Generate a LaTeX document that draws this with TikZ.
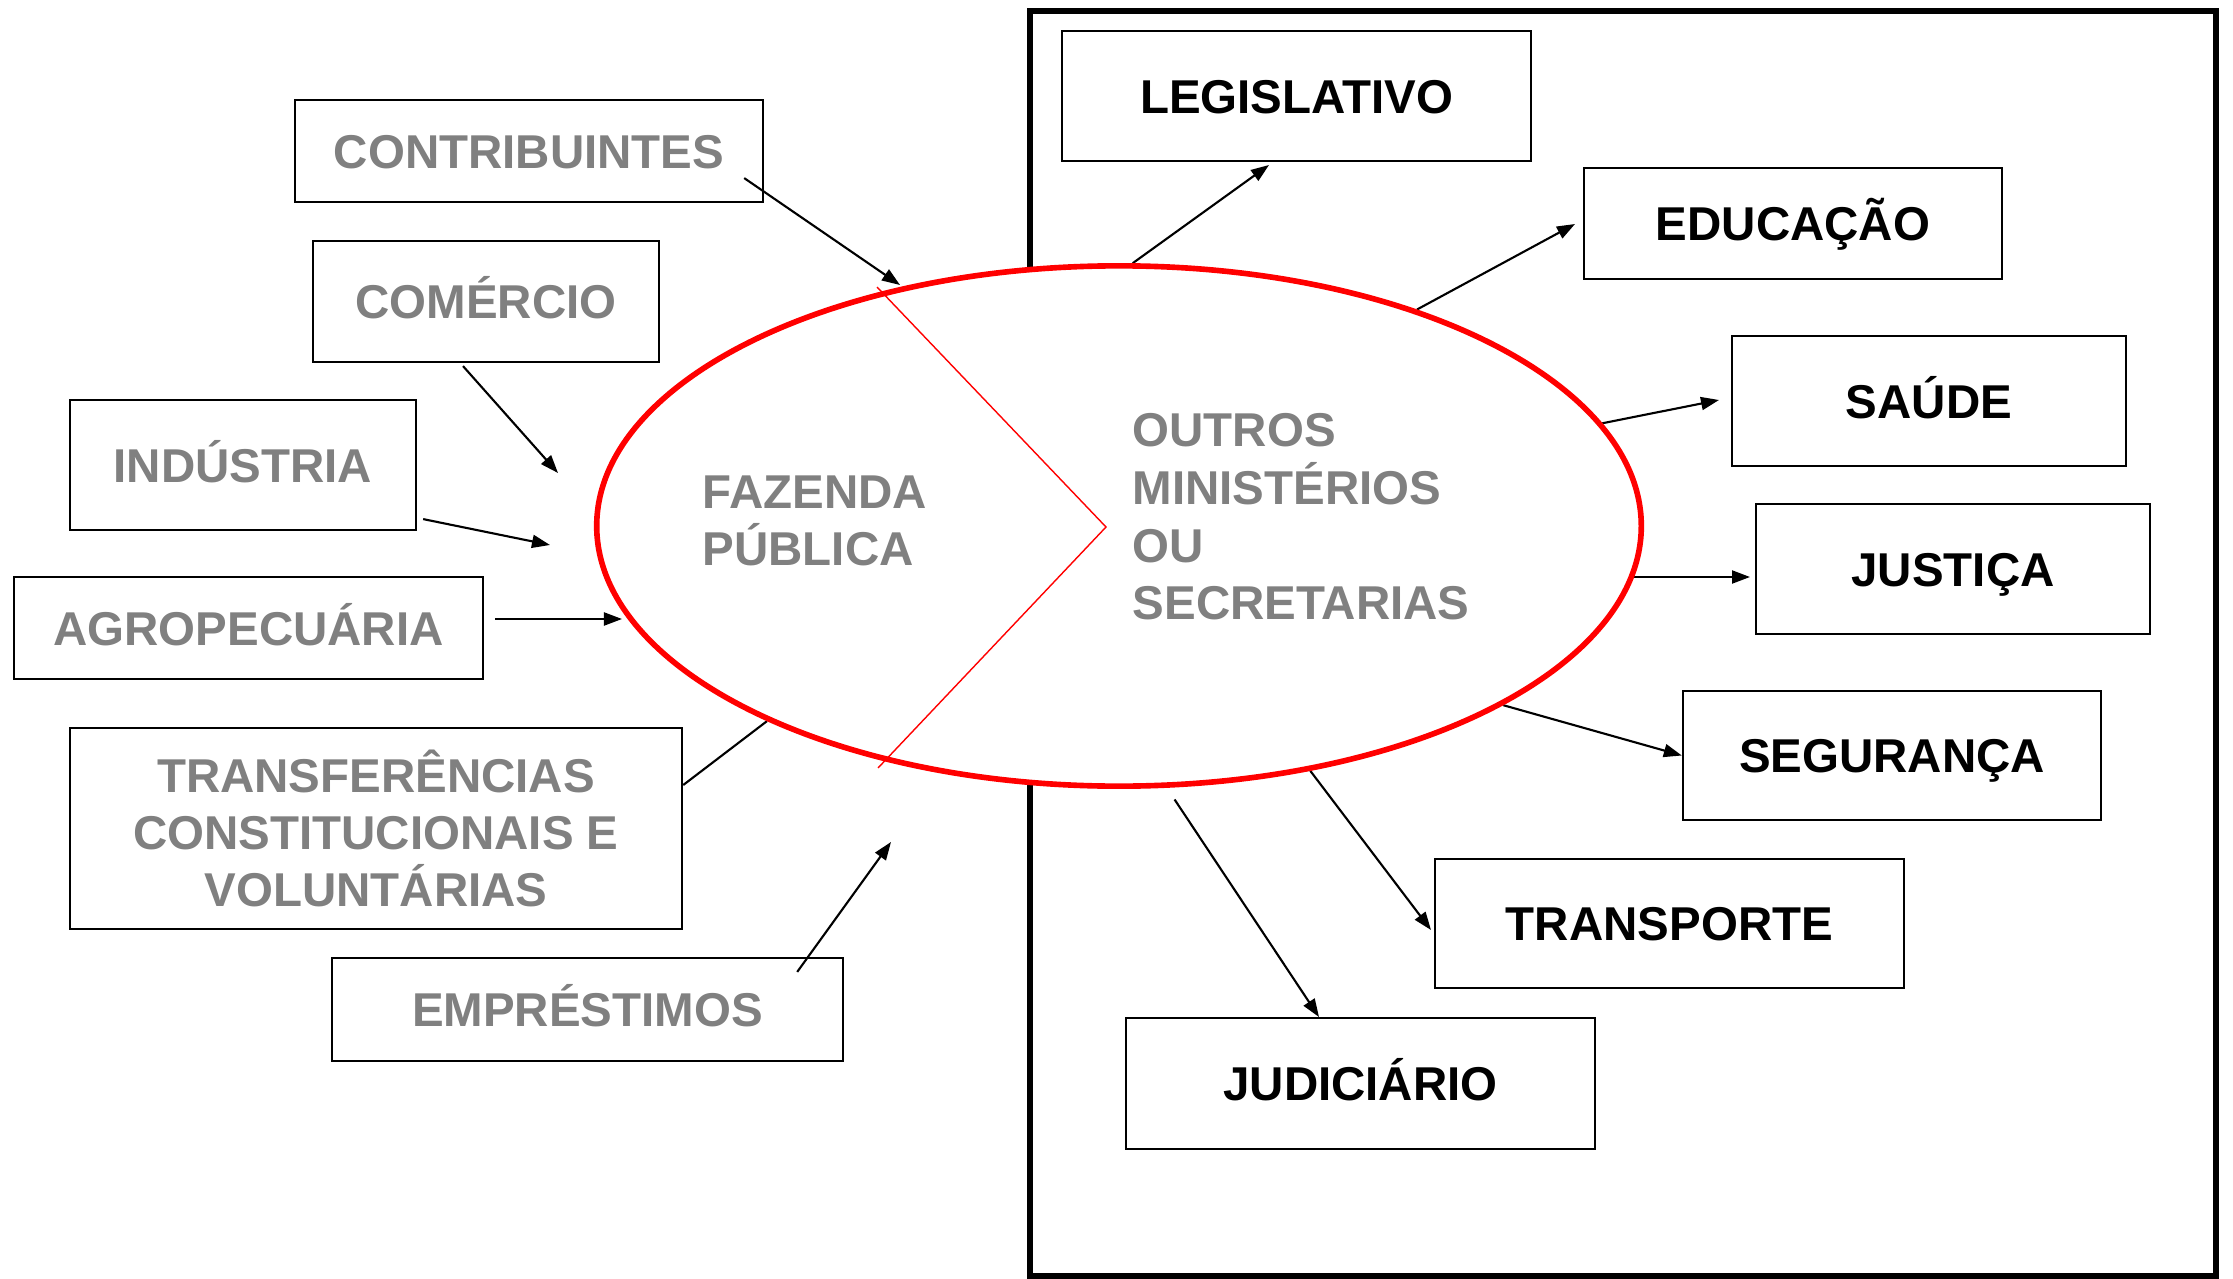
\documentclass[tikz,border=0pt]{standalone}
\usepackage{fontspec}
\setmainfont{Liberation Sans}
\usetikzlibrary{shapes.geometric,arrows.meta,calc,backgrounds}
\definecolor{cinza}{RGB}{128,128,128}
\definecolor{vermelho}{RGB}{255,0,0}
\begin{document}
\begin{tikzpicture}[x=0.01cm,y=-0.01cm,
  caixa/.style={draw,line width=0.6pt,inner sep=0pt,align=center,
    font=\bfseries\fontsize{13.5}{16.3}\selectfont},
  entrada/.style={caixa,text=cinza,text height=9.7pt,text depth=0pt},
  saida/.style={caixa,text=black,text height=9.7pt,text depth=0pt},
  seta/.style={line width=0.6pt,-{Triangle[length=1.8mm,width=1.3mm]}}]
  \useasboundingbox (0,0) rectangle (2233,1279);
  % fontes de receita
  \node (contrib) at (529,151) [entrada,minimum width=4.68cm,minimum height=1.02cm] {CONTRIBUINTES};
  \node (comercio) at (486,301.5) [entrada,minimum width=3.46cm,minimum height=1.21cm] {COMÉRCIO};
  \node (industria) at (243,465) [entrada,minimum width=3.46cm,minimum height=1.3cm] {INDÚSTRIA};
  \node (agro) at (248.5,628) [entrada,minimum width=4.69cm,minimum height=1.02cm] {AGROPECUÁRIA};
  \node (transf) at (376,828.5) [caixa,text=cinza,minimum width=6.12cm,minimum height=2.01cm]
    {TRANSFERÊNCIAS\\CONSTITUCIONAIS E\\VOLUNTÁRIAS};
  \node (emprest) at (587.5,1009.5) [entrada,minimum width=5.11cm,minimum height=1.03cm] {EMPRÉSTIMOS};
  % destinos
  \node (leg) at (1296.5,96) [saida,minimum width=4.69cm,minimum height=1.3cm] {LEGISLATIVO};
  \node (educ) at (1793,223.5) [saida,minimum width=4.18cm,minimum height=1.11cm] {EDUCAÇÃO};
  \node (saude) at (1929,401) [saida,minimum width=3.94cm,minimum height=1.3cm] {SAÚDE};
  \node (just) at (1953,569) [saida,minimum width=3.94cm,minimum height=1.3cm] {JUSTIÇA};
  \node (seg) at (1892,755.5) [saida,minimum width=4.18cm,minimum height=1.29cm] {SEGURANÇA};
  \node (transp) at (1669.5,923.5) [saida,minimum width=4.69cm,minimum height=1.29cm] {TRANSPORTE};
  \node (judic) at (1360.5,1083.5) [saida,minimum width=4.69cm,minimum height=1.31cm] {JUDICIÁRIO};
  % elipse central
  \node (ell) at (1119,526) [ellipse,draw=vermelho,fill=white,line width=1.6pt,
    minimum width=10.44cm,minimum height=5.2cm,inner sep=0pt] {};
  \draw[vermelho,line width=0.4pt] (877,287) -- (1106,527) -- (878,768);
  \node (fazenda) at (702,521) [anchor=west,inner sep=0pt,align=left,text=cinza,
    font=\bfseries\fontsize{13.5}{16.3}\selectfont] {FAZENDA\\PÚBLICA};
  \node (outros) at (1132,517) [anchor=west,inner sep=0pt,align=left,text=cinza,
    font=\bfseries\fontsize{13.5}{16.4}\selectfont] {OUTROS\\MINISTÉRIOS\\OU\\SECRETARIAS};
  % pontas livres
  \coordinate (pContrib) at (900,285);
  \coordinate (pComercio) at (558,473);
  \coordinate (pIndustria) at (550,545);
  \coordinate (pAgro) at (622,619);
  \coordinate (pEmprest) at (891,842);
  \coordinate (pLeg) at (1269,165);
  \coordinate (pEduc) at (1575,224);
  \coordinate (pSaude) at (1719,400);
  \coordinate (pJust) at (1750,577);
  \coordinate (pTransp) at (1431,930);
  \coordinate (pJudic) at (1319,1017);
  \begin{pgfonlayer}{background}
    \draw[line width=1.5pt] (1030,11) rectangle (2216,1276);
    \draw[seta] ($(contrib.south east)+(-20,-25)$) -- (pContrib);
    \draw[seta] ($(comercio.south)+(-23,3)$) -- (pComercio);
    \draw[seta] ($(industria.south east)+(6,-12)$) -- (pIndustria);
    \draw[seta] ($(agro.east)+(11,-9)$) -- (pAgro);
    \draw[line width=0.6pt] ($(transf.east)+(0,-43.5)$) -- (ell.209);
    \draw[seta] ($(emprest.north east)+(-47,15)$) -- (pEmprest);
    \draw[seta] (ell.87) -- (pLeg);
    \draw[seta] (ell.36.6) -- (pEduc);
    \draw[seta] (ell.12.4) -- (pSaude);
    \draw[seta] (ell.-8 |- pJust) -- (pJust);
    \draw[seta] (ell.-25.8) -- (seg.west);
    \draw[seta] (ell.-52.8) -- (pTransp);
    \draw[seta] ([yshift=-1.2mm]ell.-78.4) -- (pJudic);
  \end{pgfonlayer}
\end{tikzpicture}
\end{document}
